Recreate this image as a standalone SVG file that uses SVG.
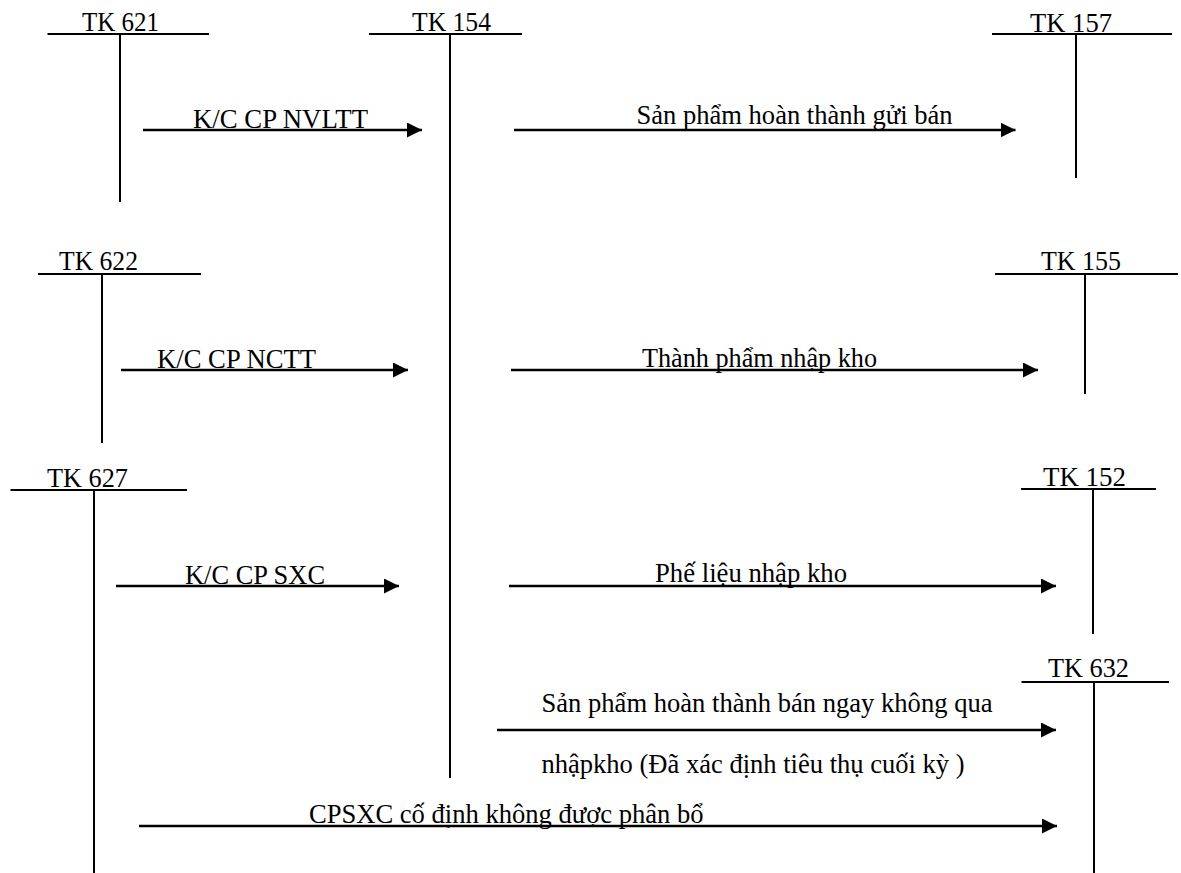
<svg xmlns="http://www.w3.org/2000/svg" width="1181" height="873" viewBox="0 0 1181 873">
<style>
  .bg { fill: #ffffff; }
  .tl { stroke: #000; stroke-width: 2; fill: none; }
  .lbl { font-family: "Liberation Serif", "Times New Roman", serif; font-size: 26.5px; fill: #000; }
  .arr { stroke: #000; stroke-width: 2.5; fill: none; marker-end: url(#ah); }
</style>
<defs>
  <marker id="ah" viewBox="0 0 15 15" refX="15" refY="7.5" markerWidth="15" markerHeight="15" markerUnits="userSpaceOnUse" orient="auto">
    <path d="M0,0 L15,7.5 L0,15 Z" fill="#000"/>
  </marker>
</defs>
<rect class="bg" x="0" y="0" width="1181" height="873"/>

<g id="tk621">
  <line class="tl" x1="47.5" y1="34" x2="209" y2="34"/>
  <line class="tl" x1="120" y1="34" x2="120" y2="202"/>
  <text class="lbl" x="82" y="31" textLength="77" lengthAdjust="spacingAndGlyphs">TK 621</text>
</g>
<g id="tk154">
  <line class="tl" x1="369" y1="34" x2="522" y2="34"/>
  <line class="tl" x1="450" y1="34" x2="450" y2="778"/>
  <text class="lbl" x="412" y="31" textLength="79" lengthAdjust="spacingAndGlyphs">TK 154</text>
</g>
<g id="tk157">
  <line class="tl" x1="992" y1="34" x2="1172" y2="34"/>
  <line class="tl" x1="1076" y1="34" x2="1076" y2="178"/>
  <text class="lbl" x="1030" y="32" textLength="82" lengthAdjust="spacingAndGlyphs">TK 157</text>
</g>
<g id="tk622">
  <line class="tl" x1="38" y1="274" x2="201" y2="274"/>
  <line class="tl" x1="102" y1="274" x2="102" y2="443"/>
  <text class="lbl" x="59" y="270" textLength="79" lengthAdjust="spacingAndGlyphs">TK 622</text>
</g>
<g id="tk155">
  <line class="tl" x1="995" y1="274" x2="1178" y2="274"/>
  <line class="tl" x1="1085" y1="274" x2="1085" y2="394"/>
  <text class="lbl" x="1041" y="270" textLength="80" lengthAdjust="spacingAndGlyphs">TK 155</text>
</g>
<g id="tk627">
  <line class="tl" x1="10.5" y1="490" x2="187" y2="490"/>
  <line class="tl" x1="94" y1="490" x2="94" y2="873"/>
  <text class="lbl" x="47" y="487" textLength="81" lengthAdjust="spacingAndGlyphs">TK 627</text>
</g>
<g id="tk152">
  <line class="tl" x1="1021" y1="489" x2="1156" y2="489"/>
  <line class="tl" x1="1093" y1="489" x2="1093" y2="634"/>
  <text class="lbl" x="1043" y="486" textLength="83" lengthAdjust="spacingAndGlyphs">TK 152</text>
</g>
<g id="tk632">
  <line class="tl" x1="1021.5" y1="682" x2="1169" y2="682"/>
  <line class="tl" x1="1094" y1="682" x2="1094" y2="873"/>
  <text class="lbl" x="1048" y="677" textLength="81" lengthAdjust="spacingAndGlyphs">TK 632</text>
</g>

<g id="connectors">
  <line class="arr" x1="143" y1="130" x2="422" y2="130"/>
  <line class="arr" x1="514" y1="130" x2="1015.5" y2="130"/>
  <line class="arr" x1="121" y1="370" x2="408" y2="370"/>
  <line class="arr" x1="511" y1="370" x2="1038" y2="370"/>
  <line class="arr" x1="116" y1="586" x2="399" y2="586"/>
  <line class="arr" x1="509" y1="586" x2="1056" y2="586"/>
  <line class="arr" x1="497" y1="730" x2="1056" y2="730"/>
  <line class="arr" x1="139" y1="826" x2="1057" y2="826"/>
</g>

<g id="labels">
  <text class="lbl" x="193" y="128" textLength="175" lengthAdjust="spacingAndGlyphs">K/C CP NVLTT</text>
  <text class="lbl" x="636.5" y="124" textLength="316" lengthAdjust="spacingAndGlyphs">Sản phẩm hoàn thành gửi bán</text>
  <text class="lbl" x="157" y="368" textLength="159" lengthAdjust="spacingAndGlyphs">K/C CP NCTT</text>
  <text class="lbl" x="642" y="366.5" textLength="235" lengthAdjust="spacingAndGlyphs">Thành phẩm nhập kho</text>
  <text class="lbl" x="185" y="584" textLength="140" lengthAdjust="spacingAndGlyphs">K/C CP SXC</text>
  <text class="lbl" x="655" y="581.5" textLength="192" lengthAdjust="spacingAndGlyphs">Phế liệu nhập kho</text>
  <text class="lbl" x="541.5" y="711.5" textLength="451" lengthAdjust="spacingAndGlyphs">Sản phẩm hoàn thành bán ngay không qua</text>
  <text class="lbl" x="541.5" y="773" textLength="423" lengthAdjust="spacingAndGlyphs">nhậpkho (Đã xác định tiêu thụ cuối kỳ )</text>
  <text class="lbl" x="309" y="823" textLength="394.5" lengthAdjust="spacingAndGlyphs">CPSXC cố định không được phân bổ</text>
</g>
</svg>
